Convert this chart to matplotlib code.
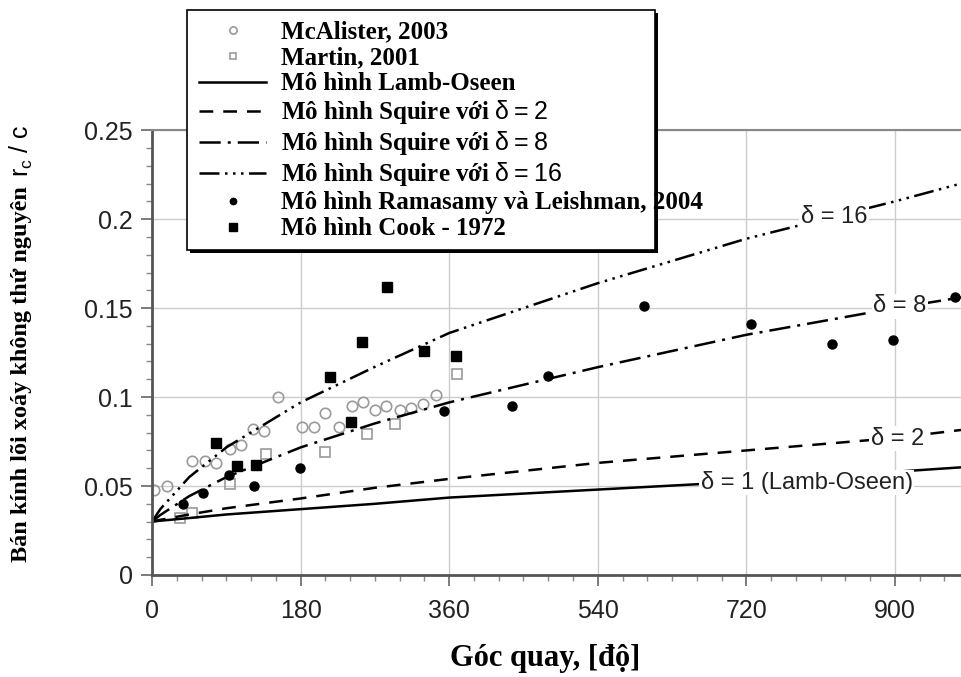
import matplotlib
matplotlib.use('Agg')
import matplotlib.pyplot as plt
from matplotlib.patches import Rectangle
from matplotlib.ticker import MultipleLocator
from matplotlib.font_manager import FontProperties

plt.rcParams['mathtext.fontset'] = 'custom'
plt.rcParams['mathtext.rm'] = 'Liberation Sans'

# measured data (goc quay [do], r_c/c)
angle_mca = [2, 18, 48, 64, 78, 94, 108, 122, 136, 152, 182, 196, 210, 226, 242, 255, 270, 284, 300, 314, 328, 344]
rc_mca = [0.048, 0.050, 0.064, 0.064, 0.063, 0.071, 0.073, 0.082, 0.081, 0.100, 0.083, 0.083, 0.091, 0.083,
          0.095, 0.097, 0.093, 0.095, 0.093, 0.094, 0.096, 0.101]

angle_martin = [34, 48, 94, 138, 210, 260, 294, 369]
rc_martin = [0.032, 0.035, 0.051, 0.068, 0.069, 0.079, 0.085, 0.113]

angle_rama = [38, 62, 93, 124, 179, 354, 436, 480, 596, 726, 824, 898, 973]
rc_rama = [0.040, 0.046, 0.056, 0.050, 0.060, 0.092, 0.095, 0.112, 0.151, 0.141, 0.130, 0.132, 0.156]

angle_cook = [78, 103, 126, 216, 241, 254, 285, 329, 368]
rc_cook = [0.074, 0.061, 0.062, 0.111, 0.086, 0.131, 0.162, 0.126, 0.123]

# model curves
angle_curve = [0, 10, 45, 90, 180, 270, 360, 540, 720, 900, 980]
rc_lamb = [0.030, 0.0305, 0.032, 0.034, 0.037, 0.040, 0.0435, 0.048, 0.0525, 0.058, 0.0605]
rc_sq2 = [0.030, 0.031, 0.034, 0.0375, 0.043, 0.049, 0.054, 0.063, 0.070, 0.077, 0.0815]
rc_sq8 = [0.030, 0.0337, 0.0443, 0.055, 0.0717, 0.0852, 0.097, 0.1168, 0.135, 0.150, 0.156]
rc_sq16 = [0.030, 0.037, 0.055, 0.0717, 0.097, 0.117, 0.136, 0.164, 0.189, 0.210, 0.220]

xticks = [0, 180, 360, 540, 720, 900]
yticks = [0, 0.05, 0.1, 0.15, 0.2, 0.25]
ytick_labels = ['0', '0.05', '0.1', '0.15', '0.2', '0.25']

sans = ['Liberation Sans', 'DejaVu Sans']
serif = ['Liberation Serif', 'DejaVu Serif']

fig = plt.figure(figsize=(9.61, 6.77), dpi=100)
ax = fig.add_axes([0.1582, 0.1507, 0.8418, 0.657])

ax.plot(angle_mca, rc_mca, 'o', mfc='none', mec='#9a9a9a', ms=7.5, mew=1.2, label='McAlister, 2003')
ax.plot(angle_martin, rc_martin, 's', mfc='none', mec='#9a9a9a', ms=7, mew=1.2, label='Martin, 2001')
ax.plot(angle_curve, rc_lamb, '-', color='k', lw=1.8, label='Mô hình Lamb-Oseen')
ax.plot(angle_curve, rc_sq2, color='k', lw=1.8, dashes=(5.5, 4),
        label=r'Mô hình Squire với $\mathrm{\delta = 2}$')
ax.plot(angle_curve, rc_sq8, color='k', lw=1.8, dashes=(8.5, 2.8, 1.2, 2.8),
        label=r'Mô hình Squire với $\mathrm{\delta = 8}$')
ax.plot(angle_curve, rc_sq16, color='k', lw=1.8, dashes=(8, 2.2, 1, 2.2, 1, 2.2, 1, 2.2),
        label=r'Mô hình Squire với $\mathrm{\delta = 16}$')
ax.plot(angle_rama, rc_rama, 'o', color='k', ms=6.5, label='Mô hình Ramasamy và Leishman, 2004')
ax.plot(angle_cook, rc_cook, 's', color='k', ms=7.5, label='Mô hình Cook - 1972')

# curve labels
lbl_box = dict(facecolor='white', edgecolor='none', pad=1)
ax.text(826, 0.201, 'δ = 16', family=sans, fontsize=17, color='#222', ha='center', va='center', bbox=lbl_box)
ax.text(906, 0.151, 'δ = 8', family=sans, fontsize=17, color='#222', ha='center', va='center', bbox=lbl_box)
ax.text(903, 0.0765, 'δ = 2', family=sans, fontsize=17, color='#222', ha='center', va='center', bbox=lbl_box)
ax.text(793, 0.052, 'δ = 1 (Lamb-Oseen)', family=sans, fontsize=17, color='#222', ha='center', va='center', bbox=lbl_box)

ax.set_xlim(0, 980)
ax.set_ylim(0, 0.25)
ax.set_xticks(xticks)
ax.set_yticks(yticks)
ax.set_yticklabels(ytick_labels)
ax.xaxis.set_minor_locator(MultipleLocator(30))
ax.yaxis.set_minor_locator(MultipleLocator(0.01))
ax.tick_params(which='major', direction='out', length=8, width=1.2, color='#666', labelsize=18, labelcolor='#222')
ax.tick_params(which='minor', direction='out', length=4, width=1, color='#888')
ax.tick_params(axis='x', pad=9)
ax.tick_params(axis='y', pad=6)
for t in ax.get_xticklabels() + ax.get_yticklabels():
    t.set_family(sans)

ax.grid(True, which='major', color='#cccccc', lw=1.0)
ax.set_axisbelow(True)
ax.spines['right'].set_visible(False)
ax.spines['left'].set_color('#555')
ax.spines['left'].set_linewidth(2)
ax.spines['bottom'].set_color('#555')
ax.spines['bottom'].set_linewidth(2)
ax.spines['top'].set_color('#888')
ax.spines['top'].set_linewidth(1.5)

fig.text(0.567, 0.028, 'Góc quay, [độ]', family=serif, weight='bold', fontsize=22, ha='center', va='center')
fig.text(0.022, 0.448, 'Bán kính lõi xoáy không thứ nguyên', family=serif, weight='bold', fontsize=17.5,
         rotation=90, ha='center', va='center')
fig.text(0.022, 0.777, r'$\mathrm{r_c}$ / c', family=sans, fontsize=18, rotation=90, ha='center', va='center')

# legend box with shadow, drawn by hand so the long label can run over it
fig.add_artist(Rectangle((0.1976, 0.6263), 0.487, 0.3545, transform=fig.transFigure,
                         facecolor='k', edgecolor='none', zorder=3))
fig.add_artist(Rectangle((0.1946, 0.6307), 0.487, 0.3545, transform=fig.transFigure,
                         facecolor='white', edgecolor='k', lw=1.2, zorder=4))

handles, labels = ax.get_legend_handles_labels()
leg_font = FontProperties(family=serif, weight='bold', size=18)
leg = fig.legend(handles, labels, loc='upper left', bbox_to_anchor=(0.207, 0.970), frameon=False,
                 prop=leg_font, handlelength=2.7, handletextpad=0.6, labelspacing=0.12,
                 borderpad=0, borderaxespad=0, markerscale=0.7)
leg.set_zorder(5)

fig.savefig('out.png', dpi=100)
